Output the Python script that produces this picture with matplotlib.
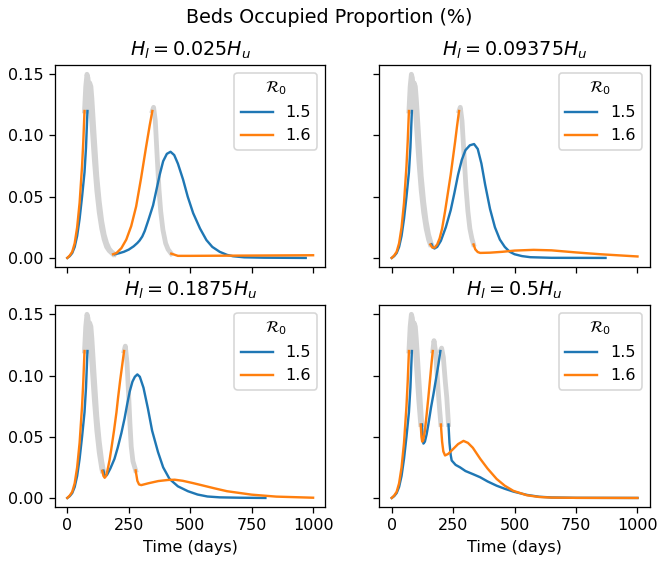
import numpy as np
import matplotlib.pyplot as plt

# first wave, same in every panel (colored rise, then lockdown peak)
rise_days_15 = [0, 10, 20, 30, 40, 50, 60, 70, 76, 82]
rise_beds_15 = [0, 0.0015, 0.004, 0.009, 0.018, 0.032, 0.05, 0.07, 0.09, 0.12]
peak_days_15 = [82, 86, 91, 96, 100, 110, 120, 130, 140, 150, 160, 170, 180, 193]
peak_beds_15 = [0.12, 0.136, 0.143, 0.14, 0.13, 0.098, 0.067, 0.046, 0.03, 0.019,
                0.012, 0.0075, 0.005, 0.003]

rise_days_16 = [0, 10, 20, 30, 40, 50, 60, 65, 70]
rise_beds_16 = [0, 0.002, 0.005, 0.012, 0.025, 0.045, 0.075, 0.095, 0.12]
peak_days_16 = [70, 75, 80, 84, 88, 94, 100, 110, 120, 130, 140, 150, 160, 170, 186]
peak_beds_16 = [0.12, 0.14, 0.15, 0.147, 0.138, 0.125, 0.11, 0.08, 0.055, 0.037,
                0.024, 0.015, 0.009, 0.006, 0.003]

# after the first lockdown is lifted
p1_days_15 = [193, 210, 230, 250, 270, 285, 294, 305, 315, 330, 349, 362, 376, 390, 405,
              420, 435, 450, 471, 490, 512, 540, 566, 590, 620, 650, 674, 720, 800, 970]
p1_beds_15 = [0.003, 0.0038, 0.005, 0.0068, 0.0095, 0.0122, 0.0142, 0.0175, 0.022, 0.031,
              0.043, 0.055, 0.068, 0.079, 0.085, 0.0867, 0.084, 0.077, 0.064, 0.05, 0.0366,
              0.024, 0.0146, 0.009, 0.005, 0.0025, 0.0014, 0.0005, 0.0002, 0.0]
p1_days_16 = [186, 200, 220, 240, 260, 280, 300, 320, 335, 346, 351, 358, 365, 373, 380,
              389, 400, 410, 423, 450, 500, 600, 700, 800, 900, 1000]
p1_beds_16 = [0.003, 0.004, 0.008, 0.015, 0.026, 0.042, 0.065, 0.09, 0.108, 0.12, 0.123,
              0.112, 0.085, 0.056, 0.038, 0.023, 0.012, 0.007, 0.0035, 0.0017, 0.0017,
              0.0018, 0.0019, 0.002, 0.0021, 0.0022]
p1_lock_15 = None
p1_lock_16 = (346, 423)

p2_days_15 = [162, 168, 174, 185, 200, 220, 240, 255, 270, 285, 300, 318, 335, 350, 365,
              380, 400, 420, 440, 460, 480, 500, 530, 564, 650, 870]
p2_beds_15 = [0.0112, 0.0085, 0.0077, 0.009, 0.014, 0.025, 0.039, 0.053, 0.068, 0.08, 0.088,
              0.092, 0.093, 0.089, 0.077, 0.06, 0.04, 0.025, 0.015, 0.009, 0.005, 0.003,
              0.0015, 0.0006, 0.0001, 0.0]
p2_days_16 = [157, 165, 175, 185, 195, 205, 217, 230, 240, 248, 258, 266, 274, 279, 286,
              294, 302, 310, 318, 326, 333, 340, 350, 360, 400, 450, 500, 577, 650, 750,
              850, 950, 1000]
p2_beds_16 = [0.011, 0.0085, 0.0085, 0.011, 0.016, 0.024, 0.038, 0.055, 0.068, 0.08, 0.095,
              0.108, 0.12, 0.123, 0.112, 0.085, 0.058, 0.038, 0.024, 0.016, 0.011, 0.007,
              0.0048, 0.0041, 0.0043, 0.005, 0.006, 0.0066, 0.0062, 0.0045, 0.003, 0.0018,
              0.0012]
p2_lock_15 = None
p2_lock_16 = (274, 333)

p3_days_15 = [147, 151, 155, 162, 175, 192, 205, 220, 233, 244, 254, 265, 275, 285, 295,
              310, 328, 345, 369, 390, 416, 450, 491, 530, 570, 620, 700, 806]
p3_beds_15 = [0.0223, 0.019, 0.0177, 0.019, 0.024, 0.032, 0.041, 0.053, 0.065, 0.077, 0.087,
              0.095, 0.099, 0.1009, 0.099, 0.09, 0.073, 0.055, 0.0375, 0.025, 0.0155, 0.0095,
              0.0055, 0.0028, 0.0012, 0.0005, 0.0002, 0.0]
p3_days_16 = [142, 147, 152, 158, 165, 172, 179, 190, 200, 206, 215, 223, 231, 236, 243,
              250, 255, 260, 267, 278, 285, 292, 301, 330, 370, 410, 437, 470, 510, 545,
              600, 650, 750, 850, 1000]
p3_beds_16 = [0.0222, 0.018, 0.0165, 0.018, 0.024, 0.031, 0.04, 0.055, 0.07, 0.081, 0.096,
              0.108, 0.12, 0.124, 0.11, 0.082, 0.06, 0.042, 0.03, 0.0225, 0.014, 0.011,
              0.0105, 0.012, 0.0138, 0.0147, 0.0149, 0.014, 0.0122, 0.0105, 0.0078, 0.0055,
              0.0027, 0.0011, 0.0002]
p3_lock_15 = None
p3_lock_16 = (231, 278)

p4_days_15 = [123, 126, 129, 135, 142, 149, 160, 170, 180, 190, 198, 203, 210, 218, 224,
              231, 235, 240, 244, 260, 278, 300, 330, 360, 390, 427, 460, 495, 550, 600,
              650, 750, 1000]
p4_beds_15 = [0.06, 0.05, 0.0444, 0.046, 0.052, 0.06, 0.074, 0.085, 0.097, 0.109, 0.12,
              0.1224, 0.115, 0.095, 0.082, 0.06, 0.045, 0.035, 0.0306, 0.027, 0.025, 0.022,
              0.0195, 0.0169, 0.0135, 0.01, 0.0075, 0.0052, 0.0025, 0.001, 0.0004, 0.0001,
              0.0]
p4_days_16 = [118, 121, 124, 128, 135, 142, 149, 156, 162, 167, 172, 178, 185, 190, 195,
              200, 205, 210, 217, 230, 250, 270, 292, 310, 330, 360, 390, 427, 460, 495,
              550, 600, 650, 750, 1000]
p4_beds_16 = [0.06, 0.05, 0.046, 0.047, 0.055, 0.068, 0.082, 0.097, 0.11, 0.12, 0.1285,
              0.12, 0.1, 0.085, 0.072, 0.06, 0.046, 0.038, 0.0347, 0.036, 0.04, 0.044,
              0.0466, 0.045, 0.041, 0.032, 0.024, 0.0155, 0.01, 0.0058, 0.0022, 0.0008,
              0.0003, 0.0001, 0.0]
p4_lock_15 = (198, 231)
p4_lock_16 = (167, 200)

titles = [r'$H_l = 0.025H_u$', r'$H_l = 0.09375H_u$',
          r'$H_l = 0.1875H_u$', r'$H_l = 0.5H_u$']
r0_labels = ['1.5', '1.6']
colors = ['#1f77b4', '#ff7f0e']

panels = [
    [(p1_days_15, p1_beds_15, p1_lock_15), (p1_days_16, p1_beds_16, p1_lock_16)],
    [(p2_days_15, p2_beds_15, p2_lock_15), (p2_days_16, p2_beds_16, p2_lock_16)],
    [(p3_days_15, p3_beds_15, p3_lock_15), (p3_days_16, p3_beds_16, p3_lock_16)],
    [(p4_days_15, p4_beds_15, p4_lock_15), (p4_days_16, p4_beds_16, p4_lock_16)],
]
first_wave = [(rise_days_15, rise_beds_15, peak_days_15, peak_beds_15),
              (rise_days_16, rise_beds_16, peak_days_16, peak_beds_16)]


def draw_curve(ax, k, days, beds, lock2):
    rt, ry, pt, py = first_wave[k]
    release = days[0]
    pt = np.array(pt)
    py = np.array(py)
    keep = pt < release
    t = np.concatenate([rt[:-1], pt[keep], days])
    y = np.concatenate([ry[:-1], py[keep], beds])
    windows = [(rt[-1], release)]
    if lock2 is not None:
        windows.append(lock2)
    # grey = lockdown on
    for a, b in windows:
        m = (t >= a) & (t <= b)
        ax.plot(t[m], y[m], color='lightgrey', lw=3, zorder=1)
    edges = [t[0]] + [w for ab in windows for w in ab] + [t[-1]]
    for i in range(0, len(edges), 2):
        m = (t >= edges[i]) & (t <= edges[i + 1])
        lab = r0_labels[k] if i == 0 else None
        ax.plot(t[m], y[m], color=colors[k], lw=1.5, label=lab, zorder=2)


fig, axes = plt.subplots(2, 2, sharex=True, sharey=True,
                         figsize=(659 / 115, 561 / 115), dpi=115)
fig.subplots_adjust(left=0.0835, right=0.986, top=0.884, bottom=0.096,
                    wspace=0.2, hspace=0.188)

for ax, title, curves in zip(axes.flat, titles, panels):
    for k, (d, b, lock) in enumerate(curves):
        draw_curve(ax, k, d, b, lock)
    ax.set_title(title)
    ax.legend(title=r'$\mathcal{R}_0$', loc='upper right')

for ax in axes[1]:
    ax.set_xlabel('Time (days)')
axes[0, 0].set_xticks([0, 250, 500, 750, 1000])

fig.suptitle('Beds Occupied Proportion (%)', y=0.985)
fig.savefig('out.png', dpi=115)
